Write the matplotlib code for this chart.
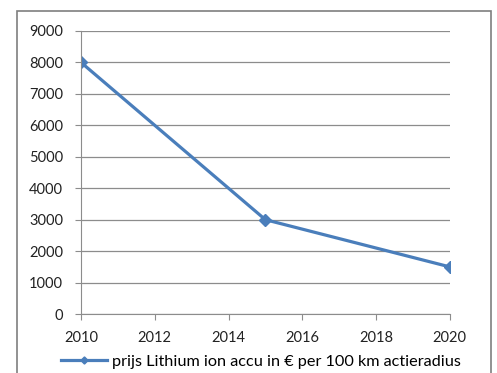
import matplotlib.pyplot as plt
from matplotlib.patches import Rectangle

jaren = [2010, 2015, 2020]
prijs = [8000, 3000, 1500]
label = "prijs Lithium ion accu in € per 100 km actieradius"

plt.rcParams['font.family'] = ['Lato', 'DejaVu Sans']

fig = plt.figure(figsize=(4.97, 3.73), dpi=100)
ax = fig.add_axes([0.163, 0.158, 0.742, 0.759])

ax.plot(jaren, prijs, color='#4A7EBB', lw=2.3, marker='D', ms=6, label=label)

ax.set_xlim(2010, 2020)
ax.set_ylim(0, 9000)
ax.set_xticks(range(2010, 2021, 2))
ax.set_yticks(range(0, 9001, 1000))
ax.grid(axis='y', color='#8c8c8c', lw=0.9)
ax.set_axisbelow(True)
for s in ['top', 'right']:
    ax.spines[s].set_visible(False)
for s in ['left', 'bottom']:
    ax.spines[s].set_color('#8c8c8c')
ax.tick_params(axis='both', colors='#8c8c8c', labelcolor='#222222', labelsize=10.5, length=4)
ax.tick_params(axis='x', pad=8)
ax.tick_params(axis='y', pad=9)

fig.legend(loc='center', bbox_to_anchor=(0.525, 0.03), frameon=False, fontsize=11.7,
           handlelength=2.8, handletextpad=0.3, markerscale=0.6)

fig.patches.append(Rectangle((17 / 497, -0.05), 474 / 497, 1 - 11 / 373 + 0.05,
                             transform=fig.transFigure, fill=False,
                             edgecolor='#7f7f7f', lw=1.2))

fig.savefig('out.png', dpi=100)
